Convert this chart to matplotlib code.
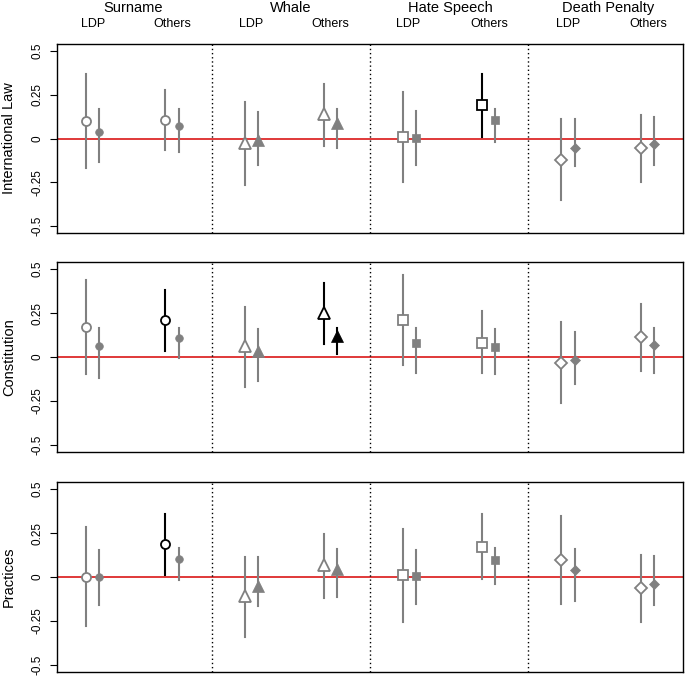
import numpy as np
import matplotlib.pyplot as plt

plt.rcParams['font.family'] = ['Liberation Sans', 'DejaVu Sans']

## the data
topics = ['Surname', 'Whale', 'Hate Speech', 'Death Penalty']
groups = ['LDP', 'Others']
panels = ['International Law', 'Constitution', 'Practices']

# order inside each panel: topic -> group (LDP, Others) -> (open, filled)
est_intl = [0.099, 0.04, 0.105, 0.07, -0.025, -0.006, 0.138, 0.088,
            0.008, 0.005, 0.189, 0.105, -0.12, -0.053, -0.057, -0.034]
lo_intl = [-0.168, -0.135, -0.067, -0.076, -0.263, -0.154, -0.04, -0.053,
           -0.25, -0.152, 0.01, -0.021, -0.352, -0.158, -0.25, -0.154]
hi_intl = [0.366, 0.166, 0.28, 0.166, 0.208, 0.15, 0.31, 0.166,
           0.267, 0.16, 0.366, 0.17, 0.109, 0.114, 0.133, 0.124]
sig_intl = [0, 0, 0, 0, 0, 0, 0, 0, 0, 0, 1, 0, 0, 0, 0, 0]

est_const = [0.171, 0.063, 0.209, 0.11, 0.063, 0.034, 0.25, 0.12,
             0.211, 0.078, 0.082, 0.057, -0.032, -0.015, 0.114, 0.068]
lo_const = [-0.099, -0.118, 0.034, -0.004, -0.169, -0.137, 0.072, 0.015,
            -0.046, -0.089, -0.093, -0.095, -0.264, -0.156, -0.08, -0.089]
hi_const = [0.437, 0.166, 0.38, 0.163, 0.287, 0.158, 0.422, 0.163,
            0.466, 0.163, 0.259, 0.158, 0.2, 0.144, 0.304, 0.163]
sig_const = [0, 0, 1, 0, 0, 0, 1, 1, 0, 0, 0, 0, 0, 0, 0, 0]

est_prac = [0.0, 0.0, 0.187, 0.104, -0.11, -0.052, 0.067, 0.048,
            0.01, 0.004, 0.173, 0.096, 0.096, 0.042, -0.063, -0.04]
lo_prac = [-0.279, -0.158, 0.013, -0.019, -0.34, -0.163, -0.119, -0.115,
           -0.254, -0.154, -0.01, -0.038, -0.154, -0.135, -0.256, -0.16]
hi_prac = [0.283, 0.154, 0.36, 0.167, 0.115, 0.115, 0.244, 0.16,
           0.275, 0.154, 0.356, 0.163, 0.346, 0.16, 0.125, 0.119]
sig_prac = [0, 0, 1, 0, 0, 0, 0, 0, 0, 0, 0, 0, 0, 0, 0, 0]

markers = ['o', '^', 's', 'D']
ms_open = [6.5, 8.5, 6.5, 6.5]
ms_fill = [5.5, 8, 6, 5.5]

W, H = 685, 676
fig = plt.figure(figsize=(W / 100, H / 100), dpi=100)

# panel boxes in pixels (top, bottom)
boxes = [(44, 233), (262, 452), (482, 672)]
left, right = 57, 683

data = [(est_intl, lo_intl, hi_intl, sig_intl),
        (est_const, lo_const, hi_const, sig_const),
        (est_prac, lo_prac, hi_prac, sig_prac)]

for p in range(3):
    top, bot = boxes[p]
    ax = fig.add_axes([left / W, 1 - bot / H, (right - left) / W, (bot - top) / H])
    est, lo, hi, sig = data[p]
    k = 0
    for t in range(4):
        for g in range(2):
            for f in range(2):
                x = 12 * t + 6 * g + f
                col = 'black' if sig[k] else '#808080'
                ax.plot([x, x], [lo[k], hi[k]], color=col, lw=1.5, zorder=2)
                if f == 0:
                    ax.plot(x, est[k], marker=markers[t], ms=ms_open[t], mfc='white',
                            mec=col, mew=1.3, zorder=3)
                else:
                    ax.plot(x, est[k], marker=markers[t], ms=ms_fill[t], mfc=col,
                            mec=col, mew=0.5, zorder=3)
                k += 1
    ax.axhline(0, color='#dd2a2a', lw=1.3, zorder=1)
    for t in range(3):
        ax.axvline(12 * t + 9.5, color='black', ls=(0, (1, 2)), lw=1)
    ax.set_xlim(-2.2, 45.2)
    ax.set_ylim(-0.54, 0.54)
    ax.set_xticks([])
    ax.set_yticks([-0.5, -0.25, 0, 0.25, 0.5])
    ax.set_yticklabels(['-0.5', '-0.25', '0', '0.25', '0.5'], rotation=90,
                       va='center', fontsize=8.5)
    ax.tick_params(axis='y', length=5, width=0.8, pad=5)
    for s in ax.spines.values():
        s.set_linewidth(1)
    ax.set_ylabel(panels[p], fontsize=10.5, va='center')
    ax.yaxis.set_label_coords(-(57 - 9) / (right - left), 0.5)

# header labels (placed in figure pixels)
title_x = [133, 291, 450, 608]
ldp_x = [93, 251, 408, 568]
oth_x = [172, 330, 489, 648]
for t in range(4):
    fig.text(title_x[t] / W, 1 - 8 / H, topics[t], ha='center', va='center', fontsize=10.5)
    fig.text(ldp_x[t] / W, 1 - 24 / H, groups[0], ha='center', va='center', fontsize=9)
    fig.text(oth_x[t] / W, 1 - 24 / H, groups[1], ha='center', va='center', fontsize=9)

fig.savefig('out.png', dpi=100)
